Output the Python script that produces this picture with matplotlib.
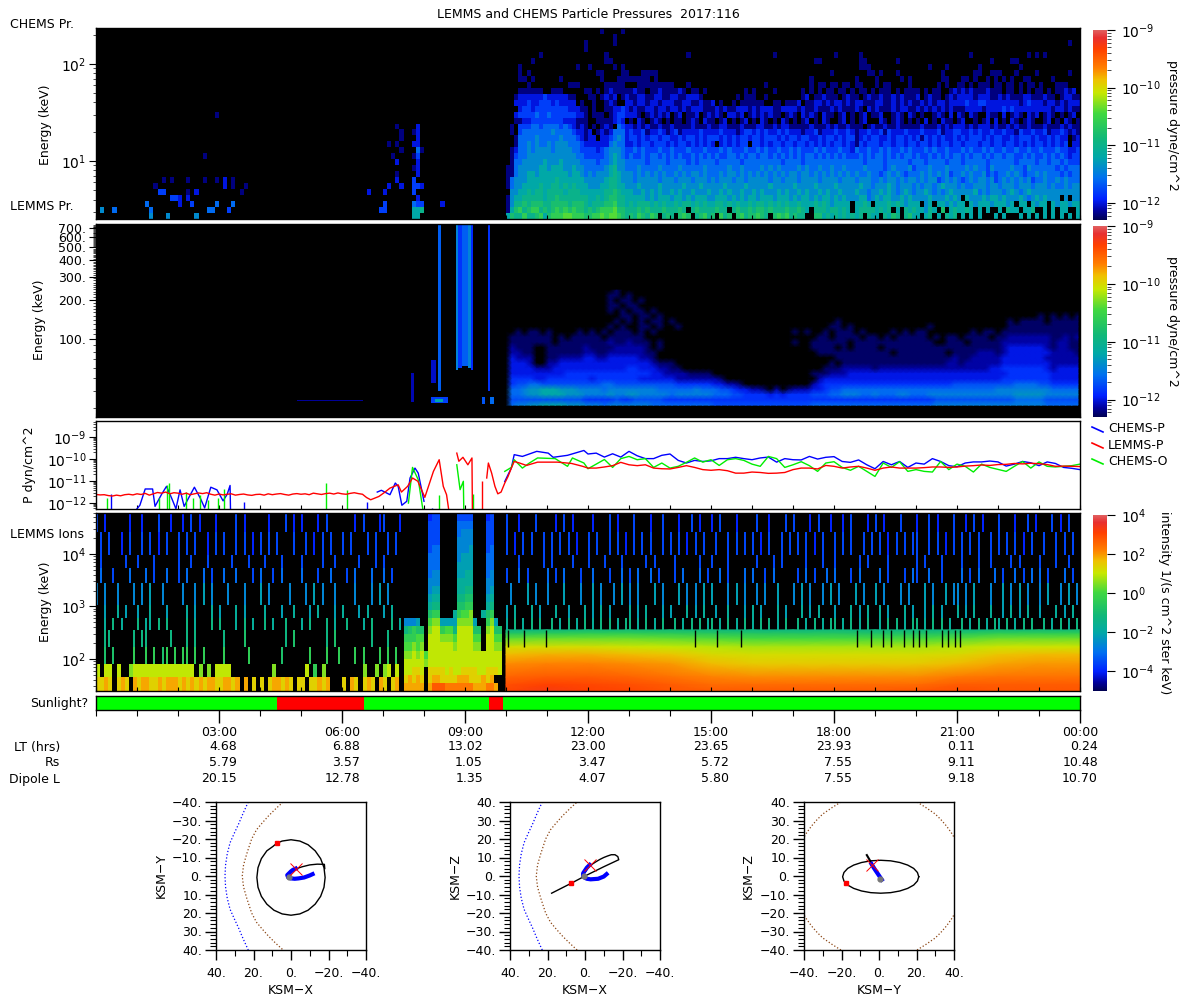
# -*- coding: utf-8 -*-
# LEMMS and CHEMS particle pressures, day 2017:116
import numpy as np
import matplotlib
matplotlib.use("Agg")
import matplotlib.pyplot as plt
from matplotlib.colors import LinearSegmentedColormap, LogNorm
from matplotlib.lines import Line2D
from matplotlib.ticker import FixedLocator, FixedFormatter, MultipleLocator, NullFormatter, LogLocator

plt.rcParams['font.family'] = ['DejaVu Sans']
plt.rcParams['font.size'] = 9
plt.rcParams['mathtext.default'] = 'regular'
plt.rcParams['axes.linewidth'] = 1.0
W, H = 1200, 1000

# --- CHEMS spectrogram, log P = -12.2 + 0.2*level, 6 min columns from 10:00, rows top -> bottom
chems_rows = [
".......... .......... ...0....0.",
".......... .......... ......0",
".......... .........0 ......0... .......... .......... .......... .......... .......... .......... .......... .......... .......... .......... .......0",
".......... .........0",
"........0. .......... ....0..... .......... ....0..... .......... .....0.... .......... 0.....0... .......... .......... ...0...... .......0.0 .0",
"......0... .......... ....00.... .......... .......... .......... .......... .....00... ......00.. .....0.... .......... ........0. ...00.....",
"...0...... .......0.. 0.....0.0. .......... .......... .......... .......... .......... ......000. .......... ...0...0.. .....0.... .....0....",
"...0.0.... .......... ..00....00 ...0000... .......... .......... .......... .........0 ........00 .0...0.... ......0... ....00..00 0...0....0 .......0",
"...00.0... ...0...... ...0...000 00000.0... .......... .......... .......... ....0..... .....0.... 0.....0.0. ......00.. .00.0..0.0 .0.0..00.. ...0..",
".....0.... .....000.. ....00000. ..00000000 0...0..... .......... ...0...... ....0.00.0 0.00.00... 0.00....0. .....0.0.. 00.0.000.0 0.00.0.00. 0...000.",
"...000000. .000.....0 0.0.010000 0100.00100 0010.00.0. ........0. 0....0.... ..0.0.0.00 .00.0.00.0 .000.0.000 0.0.00..01 0101000100 0.00.0.0.0 0.0.00101.",
"..01111112 1111100... 00.0101.01 0011001100 11001110.. ......0.00 0..0...... ..01.00100 0.0100.010 0100101000 1.0100.010 1111011100 1010001100 0100.01100",
"..11121122 2121111.0. .0..010..1 1011011011 1001100100 1.0..0.000 000..00.00 01.0011010 1101011000 1100101010 0101011011 1121122111 1111101211 1011010111",
"...1221222 2222211100 .0..001121 0100110110 1101011100 0101001110 1011100111 1010010001 0100010.10 1000101100 1010101010 0011110111 1212111111 1110110100",
"..12222322 3222222110 .000.01221 110.010101 .01.001.01 010.1101.0 1010100.01 0.1010.100 .01.0.01.0 01..010.10 .0..010.1. 10.10..100 .1.010.101 .010.0.01.",
"..00112222 2222111000 ..0000121. 0.10.010.0 .00.010.10 0.01.0.01. 0.10.0.10. 0.01.0.10. .01.0.01.. .10.010.0. 0.1.0.100. 01..0.01.1 .0.10.010. .01.0.10.0",
".0.2223323 3332321010 .0.010.321 1010100100 1000010001 0011000100 0110010110 0000100010 1001000.01 0010010000 0100010101 1101011101 0010100100 0100010100",
".0.2333333 3433332110 1.01013331 2112011210 1201111211 1121110122 1212112121 1101120111 2112101121 1202111211 1211120112 2112121121 1211021121 1201121010",
"..03333433 3334333210 11.1123431 2212122122 1121221212 2212121221 2212221212 2122112122 1212201212 2112122121 2021212112 1212221212 2112122212 1121211.01",
"..03343433 4344433321 1111134331 1212212221 2122121212 1.1212122. 2212122122 1221212121 2212102122 2122122122 1221212212 2122212212 2122121212 2121212.11",
".013343444 4344443322 2212344432 2323222322 3222322232 2232322232 2323223223 2322232322 2322132232 2323223232 2232322322 2323223232 2322322322 3222322112",
".023344444 4444444332 2222345432 3223233232 3232232323 2322332323 3233232323 2323323232 3232223232 3323232332 3223232323 3232332323 3233223232 2323232122",
".033444445 4445444433 3323345443 3333233332 3333232333 3233333233 3333333233 3323333333 3333333233 3323333323 3323333233 3233333233 3333233332 3323323222",
"0034444455 4555445443 3333456443 3343333433 3343333343 3333433433 3343434333 3434334334 3343333433 3323433342 3334333433 3343433243 3334332433 3333232333",
"0034455455 5555545543 4344456544 4343434343 3434344343 3343443434 3434343434 4344343434 3434343343 3234343233 3434343423 3434334232 3343432334 3433323233",
"0344455555 5565555554 4444566544 4344444344 4344434443 4344434434 4444344344 4344443444 4344434443 3434434344 3434423434 3234344342 3434343423 3433434333",
"0344555565 5665656555 4445566554 4454444544 4445444544 4445444454 4444544444 5444454444 5444445443 4445434443 4344345444 3433444344 3444344434 4434334344",
".445565665 6666566655 5555667655 5445454544 5454454445 4454544544 5454445454 4545445454 4544454434 4545434543 4454343454 4444534344 4345434544 4444444444",
"0455666665 6676666666 5565677665 5555454555 4554545554 4555454545 5455545554 5455454554 5454445534 5455445454 4445444545 4.54445455 4544454345 45444.4.44",
"0466767776 6777767776 5666778665 6566656565 5656656565 5665656556 5665656565 5655565654 5555.5565. 5556565455 5.45.55454 55.5455545 5545.55.54 55.5455455",
"0578678867 6787878776 7678889776 6676766676 6676.67666 6766.67667 6776766676 6765.66656 6565.56666 5656.5.656 55465.7.56 5565.5.5.. 5.655.556. .5.5.55..5",
"5766866785 7888998887 7889899876 7687687.67 6.787.6786 7.867.7867 7876.78786 766..77565 6565656.65 5.6576.675 5.56.5.656 .5.5.5...5 .5...5.5.5 .5.5.5.5.5",
]
chems_energy_range = [234, 2.52]

# --- isolated CHEMS cells before 10:00 (column = 6 min, row from top, level)
chems_low_col = [13,17,24,77,78, 1,4,13,27,28,32,69,70,77,78,79, 12,20,23,29,33,70,77,78,79,84, 18,19,20,22,78,
                 15,16,22,24,35,66,70,77, 14,31,33,36,71,74,77,78,79, 16,18,22,26,29,31,33,73,77, 73,78, 77,78,
                 73,78, 26,72,77,78, 74,78,79, 71,73,77,78, 74,78, 74,77,78, 73,78, 29]
chems_low_row = [31]*5 + [30]*11 + [29]*10 + [28]*5 + [27]*8 + [26]*9 + [25]*9 + [24]*2 + [23]*2 + \
                [22]*2 + [21]*4 + [20]*3 + [19]*4 + [18]*2 + [17]*3 + [16]*2 + [14]
chems_low_lev = [4,4,4,5,5, 4,3,3,3,3,2,2,2,5,5,6, 3,1,2,3,3,2,3,2,2,1, 2,2,1,1,1,
                 2,2,0,1,0,1,1,2, 0,1,0,0,1,1,2,2,1, 0,0,0,0,0,1,0,1,2, 0,1, 0,1,
                 1,1, 0,0,0,2, 0,3,0, 0,0,1,1, 0,1, 0,0,1, 0,1, 0]

# --- LEMMS proton spectrogram, log P = -12.25 + 0.13*level, 9 min nodes from 10:00
lemms_rows = [
".......... ........0.",
".......... .......00. 0",
".......... .......0.0 0.0",
".......... .......00. 00.",
".......... .......0.0 .00.0",
".......... .........0 0.00.0.... .......... .......... .......... .......... .......... .......0.0 .0.0",
".......... ........0. 0.0.00.0.. .......... .......... ....0..... .......... .......... ..0.0000.0 0000",
".......... .......0.0 ..00.0..0. .......... .......... ...00.0... .........0 .......... ..00000000 0000",
"..0.00.0.. ..0.0.0.00 0.0.0..... .......... .......0.0 ..0.000.0. ...0.0.00. ......0.00 .000000000 0000",
".0000000.0 .00000.000 000....... .......... .......... .00.0000.0 0.0.00000. 0.00.0000. 0011111110 0101",
".0000000.0 0000000100 1000.0.... .......... .......0.. 000000.000 0000000000 ..000.0000 0111111110 1100",
".1000..000 0001000011 1110.0.... .......... .......... 0000.0.000 0.00000000 0000000000 0122222210 1100",
".1100..000 0001100111 11100..... .......... .......... .000000000 000.000000 00.0000111 0122222221 1110",
".2111..001 1112211222 22110..... .......... .......... ....000000 0000000000 0001001111 1222222211 1111",
".2221..112 2222222222 22221000.. .......... .......... ...0.00000 0000000000 0011011111 1222222221 1111",
".2222111222 222222222 332221100. .......... .......... ..00011111 0111111111 1111111112 2333333321 2222",
".2222222223 333333333 33332211110 000....... .........0 0011122222 2222222222 2222222222 2333333322 2222",
".3333223333 333233333 332222221111 1110..... .......... 1222222222 2222222222 2222222222 3333333322 2222",
".3445544444 444445544 444444443333 3322110.. .........1 2333333333 3333333333 3344444444 4455554433 3333",
".5567788877 766665666 666665555556 5554432211 0.1.011122 3445555555 5555555555 5555555566 6666666555 5555",
".5567788887 776666766 776666656666 6655544333 3232333344 4556665565 5566555666 6666666666 6777776666 6666",
".4444444444 443333343 344444333333 3333333333 3333333333 3333333333 3333333344 4444444444 4555554444 4444",
".5667788887 776665666 666655555555 5544444444 4444444455 5555555555 5555555566 6666666666 6666665555 5555",
]
lemms_energy_range = [236, 31.3]

# --- patches before 10:00: start hour, end hour, top energy, bottom energy, log P
lemms_patch_h0 = [8.33, 8.18, 8.28, 8.77, 8.83, 8.92, 9.08, 9.14, 9.55, 9.42, 9.60, 8.18, 7.68, 4.9]
lemms_patch_h1 = [8.41, 8.58, 8.46, 8.83, 8.92, 9.08, 9.14, 9.19, 9.62, 9.48, 9.70, 8.30, 7.76, 6.5]
lemms_patch_e0 = [755, 36, 35, 755, 755, 755, 755, 755, 755, 36, 36, 69, 55, 34.5]
lemms_patch_e1 = [40, 32.5, 33, 58, 60, 62, 60, 58, 40, 32, 32, 46, 33, 33.5]
lemms_patch_p = [-11.65, -11.8, -11.2, -11.45, -11.85, -11.65, -11.45, -11.9, -11.85, -11.7, -11.6, -12.05, -12.1, -12.15]

# --- line panel, log10(P)*100
red_first = [-1161,-1163,-1162,-1166,-1168,-1164,-1167,-1162,-1160,-1163,-1158,-1161,-1156,-1164,-1158,-1152,-1155,-1150,
             -1158,-1153,-1155,-1160,-1155,-1162,-1158,-1154,-1157,-1153,-1160,-1164,-1159,-1163,-1160,-1158,-1164,-1161,
             -1159,-1163,-1165,-1161,-1160,-1164,-1158,-1162,-1159,-1157,-1161,-1164,-1159,-1157,-1160,-1158,-1162,-1155,
             -1158,-1161,-1157,-1155,-1159,-1154,-1158,-1160,-1156,-1153,-1157,-1160,-1175]
red_mid_h = [6.7,6.9,7.05,7.17,7.37,7.45,7.6,7.72,7.85,8.02,8.23,8.37,8.47,8.55,8.6,np.nan,
             8.8,8.85,8.95,9.07,9.17,9.18,np.nan,9.53,9.57,9.65,9.73,9.8,9.88,9.97,10.05,10.13,10.2,10.33,10.5,10.77,11.26,11.6,11.87]
red_mid_p = [-1185,-1170,-1150,-1132,-1117,-1150,-1124,-1086,-1101,-1174,-1056,-1003,-1124,-1162,-1226,np.nan,
             -973,-1010,-992,-1026,-995,-1226,np.nan,-1086,-1018,-1064,-1124,-1158,-1150,-1109,-1079,-1041,-1011,-1018,-1029,-1014,-1014,-1020,-1033]
red_late = [-1041,-1041,-1036,-1030,-1015,-1026,-1030,-1026,-1041,-1044,-1045,-1038,-1030,-1038,-1048,-1051,-1048,-1053,
            -1064,-1064,-1059,-1061,-1065,-1064,-1061,-1048,-1041,-1041,-1045,-1029,-1033,-1041,-1036,-1033,-1041,-1051,
            -1041,-1036,-1041,-1041,-1041,-1039,-1036,-1036,-1038,-1036,-1032,-1030,-1027,-1029,-1025,-1024,-1020,-1022,
            -1019,-1021,-1025,-1033,-1032,-1033,-1034]
blue_mid_h = [0.13,np.nan,1.0,1.07,1.2,1.38,1.44,1.6,1.72,1.85,1.95,2.05,2.15,2.25,2.4,2.55,2.65,2.8,2.95,3.1,3.2,3.27,3.28,np.nan,
              6.86,6.96,7.17,7.3,7.37,7.46,7.58,7.66,7.78,7.86,8.0,np.nan,
              9.97,10.05,10.13,10.2,10.4,10.75,11.03,11.15,11.5,11.9]
blue_mid_p = [-1226,np.nan,-1226,-1210,-1136,-1136,-1215,-1160,-1124,-1180,-1226,-1140,-1215,-1180,-1128,-1180,-1222,-1128,-1140,-1190,-1160,-1120,-1226,np.nan,
              -1150,-1142,-1162,-1109,-1124,-1210,-1192,-1086,-1041,-1064,-1192,np.nan,
              -1102,-1071,-1041,-980,-988,-965,-973,-992,-983,-961]
blue_late = [-977,-973,-991,-976,-991,-965,-985,-998,-998,-983,-977,-1006,-1018,-1006,-1011,-1008,-998,-998,-992,-998,
             -1003,-995,-991,-1014,-998,-1003,-1004,-988,-1000,-992,-989,-1011,-1015,-1004,-1026,-1044,-1011,-1026,-1011,
             -1038,-1018,-1023,-998,-1011,-1030,-1035,-1018,-1013,-1013,-1009,-1013,-1032,-1023,-1011,-1017,-1030,-1013,
             -1020,-1038,-1042,-1048]
green_mid_h = [7.62,7.72,7.86,7.97,np.nan,8.8,8.88,8.96,8.97,np.nan,9.97,10.13,10.2,10.4,10.57,10.77,11.2,11.5,11.62,11.9]
green_mid_p = [-1200,-1038,-1094,-1226,np.nan,-1026,-1139,-1101,-1226,np.nan,-1056,-1038,-1003,-1041,-1018,-995,-998,-1033,-995,-1018]
green_late = [-1044,-1023,-1002,-1038,-998,-988,-1003,-998,-1038,-1018,-1041,-1033,-1015,-995,-1014,-1003,-1029,-1003,
              -998,-1006,-1023,-1033,-988,-998,-1038,-1026,-1012,-1030,-1056,-1018,-1012,-1038,-1051,-1033,-1056,-1079,
              -1018,-1038,-1012,-1056,-1048,-1056,-1059,-1011,-1048,-1023,-1033,-1059,-1023,-1038,-1047,-1056,-1033,-1011,
              -1041,-1013,-1033,-1036,-1033,-1030,-1023]
blue_spike_h = [0.37, 3.6, 6.62, 8.2]
blue_spike_p = [-1159, -1195, -1195, -1222]
green_spike_h = [0.28,1.54,1.72,1.79,2.2,2.37,2.54,2.72,2.97,3.13,5.62,6.13,8.37,9.2]
green_spike_p = [-1177,-1177,-1116,-1109,-1150,-1177,-1162,-1185,-1177,-1136,-1109,-1139,-1165,-1159]
red_spike_h = [9.41]
red_spike_p = [-1102]
line_floor = -1227

# --- LEMMS ions, log I = -4 + 0.45*level (hex), 6 min streak columns
ion_band_edges = [60000, 26000, 9600, 5400, 2800, 1070, 604, 357]
ion_bands = [
"1.0.....0. .0...1..0. .0.1.0...0 ....1.0... ..0...1.0. 0...0.1... ...0.1...0 1...0.0... 1.0...1.00 ..1.0...0. 1..0...1.. ..0.1.0... .0...1.0.. .1...0..1. ..0..1.0.. 0.1...0... .1..0...1. 1...0.1..0 ..0.1...0. 1.0...1... 0..1.0...1 ..0.1.0... 1...0..1.0 ...1.0.1..",
".1.1..0.1. .1.1.0.1.. 1.1.1..0.1 .1..1.1.0. 1.1.1...1. .1.0.1.1.. 1.1...1.1. .1.1.1..0. 1.1.0.1.1. .1.1..1.1. 1.0.1.1..1 .1.1.1.0.. 1.1..1.1.0 .1.1.1..1. 1.1.0.1.1. .1..1.1.1. 1.0.1..1.1 .1.1.0.1.. 1.1.1..1.1 .1.0.1.1.1 1..1.1.0.1 .1.1.1..1. 1.1.1.0.1. .1..1.1.1.",
".1.....1.. 1...1..... 1..1...1.. ...1...1.. .1...1.... 1....1..1. ....1...1. 1.....1... .1..1..... 1...1...1. ...1.....1 .1....1... 1...1...1. ....1.1... .1.....1.. 1...1..... .1...1.1.. ...1...1.. 1.....1.1. ...1...... 1.1...1... .1...1..1. ...1.1.... 1...1..1..",
".2..1...2. ..2.1..2.. 1.2...2.1. .2..2...1. 2..1.2.... 2...1..2.. .1.2...2.. 2.1...1... .2.1.2...1 ..2...1.2. 1..2.1.... 2.1.2...1. .2...1..2. 1.2..2.1.. .1.2...2.1 ..2.1...2. 2..1.2.... .1.2.1..2. 2...1.2... .2.1...1.2 1..2..1... .2.1.2...2 .1..2.1.2. 2.1...2.1.",
"3.3..3...3 .3.4..3... .3..3.4.3. ..3...3... 4.3....3.. .3.4.3..3. ...3...3.4 .3....3... 3.4..3.... 4..3...3.. .3...4.3.. 3...4...3. .4.3..3.4. 3.3...4.3. ..4.3.3.4. 4...3.4.3. .3.3..4... 3.4.3..3.4 .3...4.3.. 4.3...3.3. ..4.3..4.3 3.3.4...3. .4.3.4.3.. 3.4..3.4.3",
"..4..5.4.. 4..5...4.. ..5.4...5. 4...5.4... .5...4..5. ..4.5...4. 5...4.5... 4.5...4..5 ...5.4.... 5..4...5.. 4.5...5.4. ..5..4...5 .4.5.4.... 5.4.5...4. 4...5.4.5. .4..5...4. 5.4...5.4. ..5.4.5... 4...5.4.5. .5.4...5.4 ..4.5.4... 5.4.5...5. .4.5.4.5.. 4...5.4.5.",
"..5.6.5... 6.55.6.6.. ..6.5...6. 6...5.6.5. .6.5..6... 5.6...6.5. .6...5.6.. ..6.5.6..5 6..5...6.5 .6.5.6.5.6 5.6.5.6.6. .6.5.6.5.6 .5.6.6.5.6 6.5.6.5.6. .6.5.6.6.5 6.5.6.5.6. 5.6.6.5.6. .6.5.6.5.6 6.5.6.5.6. .5.6.6.5.6 6.5.6.6.5. .6.5.6.5.6 5.6.5.6.6. .6.5.6.5.6",
]
# low energy channels before the first burst: two thin-streak bands, then two filled bands
ion_low_edges = [357, 169, 80, 45, 24.5]
ion_low_rows = [
"..66.....6 .66.....6. ..6.6..... .6....7... ......6.7. ......6.7. .......6.. .6..",
"..7.7....8 ..8.8.78.8 .88.8.8... .8.....8.. .....7.... ..8...8..8 ...8.8...8 .8.8",
"b.bb.b..ab bbbbbbbbbb bbbb.a.a.b bbb....... ...a...... .b.8.a.... .....a..a. ab.b",
"ccdc.cdc.d cddccdcddd cdcdcdcddc cddcd.d.c. c.cddcdc.c c.ccdcd... c.dc.cdc.d c.cd",
]
# bursts between 07:30 and 10:00, 6 min columns
ion_burst_rows = [
"......011....1111...01...", "......111....2222...11...", "......111....2333...11...", "......111....3333...11...",
"......122....3334...12...", "......222....3444...22...", "......222....4444...22...", "......233....4455...23...",
"......333....5555...33...", "......344....5566...34...", "......455....6677...45...", "......566....7788...56...",
"......788...5899a..578...", "3334..9aa4444aaaa4..8a4..", "67877.abb8996bbbb77.ab77.", "88899.bbbaaa9bbbb99.bb99.",
"99a9a.bbbbbbabbbbaa.bbaa.", "aabab9bbbbbbbbbbbbbbbbbb.", "bbbbbabbbbbbbbbbbbbbbbbb.", "bbccb.ccccbcbbccccbbcccb.",
"cdcdc.cddccccdddcccdcd...", "ddddd.dfffeeeeeeedddeed..",
]
# smooth ion flux after 10:00
ion_hours = [10,11,12,13,14,15,16,17,18,19,20,21,22,23,24]
ion_energy = [357, 300, 240, 169, 120, 80, 45, 32, 24.5]
ion_e357 = [-1.4,-1.2,-1.1,-1.1,-1.1,-1.2,-1.3,-1.3,-1.2,-1.3,-1.3,-1.3,-1.1,-1.1,-1.1]
ion_e300 = [-.6,-.4,-.3,-.3,-.4,-.5,-.6,-.6,-.6,-.7,-.7,-.6,-.3,-.3,-.3]
ion_e240 = [.3,.4,.4,.4,.3,.2,.1,.1,.1,.1,.1,.2,.4,.4,.4]
ion_e169 = [1.2,1.2,1.2,1.1,1.0,.9,.8,.8,.8,.8,.8,.9,1.1,1.1,1.1]
ion_e120 = [1.7,1.8,1.8,1.7,1.6,1.3,1.2,1.2,1.2,1.2,1.2,1.3,1.6,1.7,1.7]
ion_e80 = [2.1,2.2,2.2,2.1,2.0,1.7,1.5,1.5,1.5,1.5,1.5,1.7,1.9,2.0,2.0]
ion_e45 = [2.6,2.7,2.7,2.6,2.4,2.2,2.1,2.1,2.1,2.1,2.1,2.3,2.4,2.4,2.4]
ion_e32 = [2.9,3.1,3.0,2.9,2.7,2.5,2.5,2.5,2.5,2.5,2.5,2.7,2.7,2.7,2.7]
ion_e24 = [3.0,3.3,3.1,3.0,2.8,2.7,2.7,2.7,2.7,2.7,2.8,2.9,2.8,2.8,2.8]
ion_gap_hours = [10.05,10.45,10.97,14.6,15.15,15.73,18.56,18.91,19.2,19.38,19.71,19.93,20.07,20.25,20.63,20.78,20.94,21.07]

# --- sunlight bar
shadow_start = [4.42, 9.59]
shadow_end = [6.53, 9.93]

# --- ephemeris rows
time_hours = [3, 6, 9, 12, 15, 18, 21, 24]
time_labels = ['03:00', '06:00', '09:00', '12:00', '15:00', '18:00', '21:00', '00:00']
lt_values = ['4.68', '6.88', '13.02', '23.00', '23.65', '23.93', '0.11', '0.24']
rs_values = ['5.79', '3.57', '1.05', '3.47', '5.72', '7.55', '9.11', '10.48']
dipole_values = ['20.15', '12.78', '1.35', '4.07', '5.80', '7.55', '9.18', '10.70']

# --- orbit panels
shock_a = [22.8,25.5,28,30.3,32.5,34,34.9,35.2,34.9,34,32.5,30.3,28,25.5,22.8]
shock_b = [-40,-34,-28,-23,-18,-12,-6,0,6,12,18,23,28,34,40]
pause_a = [4.2,8,12,15.5,18.4,21,23.6,25.3,26,25.3,23.6,21,18.4,15.5,12,8,4.2]
pause_b = [-40,-36.5,-32.5,-28.5,-25,-20,-12,-6,0,6,12,20,25,28.5,32.5,36.5,40]
xy_orbit_x = [7.5,4.7,0,-4.7,-9.1,-12.9,-15.8,-17.6,-18.2,-17.6,-15.8,-12.9,-9.1,-4.7,0,4.7,9.1,12.9,15.8,17.6,18.2,17.6,15.8,12.9,9.6,7.5]
xy_orbit_y = [-17.8,-18.9,-19.6,-18.9,-16.9,-13.6,-9.4,-4.5,.8,6.1,11,15.2,18.5,20.5,21.2,20.5,18.5,15.2,11,6.1,.8,-4.5,-9.4,-13.6,-16,-17.8]
xy_inner_x = [-18,-17.8,-14,-10,-6,-3,0,1.5]
xy_inner_y = [-4,-6.3,-6.4,-6,-5,-4,-2,0]
xy_blue_x = [-2.5,-1,0,1,2,1.5,0,-2,-4,-7,-10,-11.5]
xy_blue_y = [-4,-3.3,-2.5,-1.5,-0.5,0.8,1.3,1.5,1.3,0.8,-0.3,-1]
xz_orbit_x = [17.8,7.5,0,-10,-18,-17.5,-16,-14,-12,-10,-8,-6,-4,-2,0]
xz_orbit_z = [-9.3,-4,0,5,8.8,10.5,11.5,11.5,10.8,10,9,7.8,6.5,5,2]
xz_blue_x = [-2.5,-1,0,1,1,0,-1,-3,-7,-10,-11.5]
xz_blue_z = [6,4.5,3,1.5,0,-1,-1.5,-1.8,-1.5,-0.3,1]
yz_orbit_y = [21.2,20.5,18.5,15.3,11.1,6.2,.9,-4.4,-9.3,-13.5,-16.7,-18.7,-19.4,-18.7,-16.7,-13.5,-9.3,-4.4,.9,6.2,11.1,15.3,18.5,20.5,21.2]
yz_orbit_z = [-.4,1.9,4.1,5.9,7.3,8.2,8.5,8.2,7.3,5.9,4.1,1.9,-.4,-2.7,-4.9,-6.7,-8.1,-9,-9.3,-9,-8.1,-6.7,-4.9,-2.7,-.4]
yz_stub_y = [-6.5,-4]
yz_stub_z = [11.3,7]
yz_blue_y = [-4,-2.5,-1.5,-0.5,1.5]
yz_blue_z = [6.5,4,2.5,1,-2]
pause_yz_y = [-20.3,-25,-30,-33,-36,-38.5,-40]
pause_yz_z = [40,37,33.5,30.5,27,23.5,21]


def px_axes(x0, y0, x1, y1):
    return fig.add_axes([x0 / W, 1 - y1 / H, (x1 - x0) / W, (y1 - y0) / H])


def parse_rows(rows, ncol, base, step):
    out = []
    for row in rows:
        s = row.replace(' ', '').ljust(ncol, '.')[:ncol]
        out.append([np.nan if c == '.' else base + step * int(c, 16) for c in s])
    return np.array(out)


def style_time_axis(ax):
    ax.set_xlim(0, 24)
    ax.xaxis.set_major_locator(MultipleLocator(1))
    ax.xaxis.set_major_formatter(NullFormatter())
    ax.tick_params(axis='x', which='major', direction='in', length=3, width=0.8, top=False)


def style_y_ticks(ax, labelsize=10):
    ax.tick_params(axis='y', which='major', length=5, width=0.8, labelsize=labelsize, pad=2)
    ax.tick_params(axis='y', which='minor', length=2.5, width=0.5)


def add_colorbar(y0, y1, mesh, label, lab_x):
    cax = px_axes(1093, y0, 1107, y1)
    cb = fig.colorbar(mesh, cax=cax, extend='neither')
    cb.ax.yaxis.set_major_locator(LogLocator(base=10, numticks=20) if 'pressure' in label else FixedLocator([1e4, 1e2, 1, 1e-2, 1e-4]))
    cb.ax.tick_params(which='major', length=6, width=0.8, pad=4, labelsize=10)
    cb.ax.tick_params(which='minor', length=3, width=0.5)
    cb.outline.set_linewidth(0.0)
    fig.text(lab_x / W, 1 - (y0 + y1) / 2 / H, label, rotation=270, ha='center', va='center', fontsize=9)


cmap = LinearSegmentedColormap.from_list('idlish', [
    (0.0, '#000050'), (0.05, '#0000a0'), (0.11, '#0020ff'), (0.22, '#0070f0'), (0.33, '#00a8a8'),
    (0.43, '#10b878'), (0.56, '#40d840'), (0.67, '#c8e800'), (0.74, '#f0c000'), (0.80, '#ff8000'),
    (0.90, '#ff4000'), (0.96, '#e83030'), (1.0, '#e06060')], N=512)
cmap.set_under('black')
cmap.set_bad('black')
p_norm = LogNorm(10 ** -12.3, 1e-9)
i_norm = LogNorm(10 ** -5.03, 1e4)

fig = plt.figure(figsize=(12, 10), dpi=100)

# CHEMS panel
ax1 = px_axes(96, 28, 1080, 219)
ax1.set_facecolor('black')
chems = np.full((32, 240), np.nan)
chems[:, 100:] = parse_rows(chems_rows, 140, -12.2, 0.2)
for c, r, l in zip(chems_low_col, chems_low_row, chems_low_lev):
    chems[r, c] = -12.2 + 0.2 * l
mesh1 = ax1.pcolormesh(np.linspace(0, 24, 241), np.geomspace(chems_energy_range[0], chems_energy_range[1], 33),
                       10 ** chems, cmap=cmap, norm=p_norm)
ax1.set_yscale('log')
ax1.set_ylim(2.52, 234)
style_time_axis(ax1)
style_y_ticks(ax1)
add_colorbar(30, 220, mesh1, 'pressure dyne/cm^2', 1172)

# LEMMS proton panel
ax2 = px_axes(96, 224, 1080, 417)
ax2.set_facecolor('black')
lemms = parse_rows(lemms_rows, 94, -12.25, 0.13)
lemms = np.nan_to_num(lemms, nan=-13.0)
lemms_h = 10 + 0.15 * np.arange(94)
lemms_e = np.geomspace(lemms_energy_range[0], lemms_energy_range[1], 23)
mesh2 = ax2.pcolormesh(lemms_h, lemms_e, 10 ** lemms, cmap=cmap, norm=p_norm, shading='gouraud')
for h0, h1, e0, e1, p in zip(lemms_patch_h0, lemms_patch_h1, lemms_patch_e0, lemms_patch_e1, lemms_patch_p):
    ax2.fill_between([h0, h1], e1, e0, color=cmap(p_norm(10 ** p)), lw=0)
ax2.set_yscale('log')
ax2.set_ylim(25.4, 755)
style_time_axis(ax2)
ax2.yaxis.set_major_locator(FixedLocator([100, 200, 300, 400, 500, 600, 700]))
ax2.yaxis.set_major_formatter(FixedFormatter(['100.', '200.', '300.', '400.', '500.', '600.', '700.']))
ax2.yaxis.set_minor_locator(FixedLocator(list(range(30, 100, 10)) + list(range(110, 750, 10))))
ax2.yaxis.set_minor_formatter(NullFormatter())
style_y_ticks(ax2, 9)
add_colorbar(226, 417, mesh2, 'pressure dyne/cm^2', 1172)

# line panel
ax3 = px_axes(96, 421, 1080, 509)
h_first = 0.1 * np.arange(len(red_first))
h_late = 12 + 0.2 * np.arange(61)
red_h = np.concatenate([h_first, red_mid_h, h_late])
red_p = np.concatenate([red_first, red_mid_p, red_late]) / 100
blue_h = np.concatenate([blue_mid_h, h_late])
blue_p = np.concatenate([blue_mid_p, blue_late]) / 100
green_h = np.concatenate([green_mid_h, h_late])
green_p = np.concatenate([green_mid_p, green_late]) / 100
ax3.plot(blue_h, 10 ** blue_p, color='#0000ff', lw=1)
ax3.plot(green_h, 10 ** green_p, color='#00ee00', lw=1)
ax3.vlines(blue_spike_h, 10 ** (line_floor / 100), 10.0 ** (np.array(blue_spike_p) / 100), color='#0000ff', lw=1)
ax3.vlines(green_spike_h, 10 ** (line_floor / 100), 10.0 ** (np.array(green_spike_p) / 100), color='#00ee00', lw=1)
ax3.plot(red_h, 10 ** red_p, color='#ff0000', lw=1)
ax3.vlines(red_spike_h, 10 ** (line_floor / 100), 10.0 ** (np.array(red_spike_p) / 100), color='#ff0000', lw=1)
ax3.set_yscale('log')
ax3.set_ylim(10 ** -12.27, 10 ** -8.27)
style_time_axis(ax3)
ax3.yaxis.set_major_locator(FixedLocator([1e-12, 1e-11, 1e-10, 1e-9]))
ax3.yaxis.set_minor_locator(LogLocator(base=10, subs=range(2, 10), numticks=20))
ax3.yaxis.set_minor_formatter(NullFormatter())
style_y_ticks(ax3)
legend_names = ['CHEMS-P', 'LEMMS-P', 'CHEMS-O']
legend_cols = ['#0000ff', '#ff0000', '#00ee00']
for i, (nm, co) in enumerate(zip(legend_names, legend_cols)):
    y = 427 + 16 * i
    fig.add_artist(Line2D([1092 / W, 1103 / W], [1 - y / H, 1 - (y + 5) / H], color=co, lw=1.2))
    fig.text(1108 / W, 1 - (y + 2) / H, nm, ha='left', va='center')

# LEMMS ion panel
ax4 = px_axes(96, 513, 1080, 691)
ax4.set_facecolor('black')
streaks = parse_rows(ion_bands, 240, -4, 0.45)
thin = np.full((streaks.shape[0], 480), np.nan)
thin[:, ::2] = streaks
mesh4 = ax4.pcolormesh(np.linspace(0, 24, 481), ion_band_edges, 10 ** thin, cmap=cmap, norm=i_norm)
low = parse_rows(ion_low_rows, 75, -4, 0.45)
low_fine = np.full((low.shape[0], 150), np.nan)
low_fine[:2, ::2] = low[:2]
low_fine[2:, ::2] = low[2:]
low_fine[2:, 1::2] = low[2:]
ax4.pcolormesh(np.linspace(0, 7.5, 151), ion_low_edges, 10 ** low_fine, cmap=cmap, norm=i_norm)
burst = parse_rows(ion_burst_rows, 25, -4, 0.45)
ax4.pcolormesh(np.linspace(7.5, 10, 26), np.geomspace(60000, 24.5, 23), 10 ** burst, cmap=cmap, norm=i_norm)
ion_table = np.array([ion_e357, ion_e300, ion_e240, ion_e169, ion_e120, ion_e80, ion_e45, ion_e32, ion_e24])
ax4.pcolormesh(ion_hours, ion_energy, 10 ** ion_table, cmap=cmap, norm=i_norm, shading='gouraud')
ax4.vlines(ion_gap_hours, 169, 357, color='black', lw=1)
ax4.set_yscale('log')
ax4.set_ylim(24.5, 60000)
style_time_axis(ax4)
style_y_ticks(ax4)
add_colorbar(515, 691, mesh4, 'intensity 1/(s cm^2 ster keV)', 1165)

# sunlight bar
ax5 = px_axes(96, 696, 1080, 710)
ax5.set_facecolor('#00ff00')
ax5.barh([0.5, 0.5], np.subtract(shadow_end, shadow_start), left=shadow_start, height=1, color='#ff0000')
ax5.set_xlim(0, 24)
ax5.set_ylim(0, 1)
ax5.set_yticks([])
ax5.xaxis.set_major_locator(FixedLocator(time_hours))
ax5.xaxis.set_minor_locator(MultipleLocator(1))
ax5.xaxis.set_major_formatter(NullFormatter())
ax5.tick_params(axis='x', which='major', length=9, width=1)
ax5.tick_params(axis='x', which='minor', length=4, width=0.8)

# labels in the figure margin
fig.text(588 / W, 1 - 15 / H, 'LEMMS and CHEMS Particle Pressures  2017:116', ha='center', va='center', fontsize=9)
fig.text(10 / W, 1 - 24 / H, 'CHEMS Pr.', ha='left', va='center')
fig.text(10 / W, 1 - 206 / H, 'LEMMS Pr.', ha='left', va='center')
fig.text(10 / W, 1 - 534 / H, 'LEMMS Ions', ha='left', va='center')
fig.text(88 / W, 1 - 703 / H, 'Sunlight?', ha='right', va='center')
fig.text(45 / W, 1 - 125 / H, 'Energy (keV)', rotation=90, ha='center', va='center')
fig.text(40 / W, 1 - 320 / H, 'Energy (keV)', rotation=90, ha='center', va='center')
fig.text(29 / W, 1 - 465 / H, 'P dyn/cm^2', rotation=90, ha='center', va='center')
fig.text(45 / W, 1 - 602 / H, 'Energy (keV)', rotation=90, ha='center', va='center')
for row_y, name, vals in [(732, None, time_labels), (747, 'LT (hrs)', lt_values),
                          (763, 'Rs', rs_values), (779, 'Dipole L', dipole_values)]:
    if name:
        fig.text(60 / W, 1 - row_y / H, name, ha='right', va='center')
    for h, v in zip(time_hours, vals):
        fig.text((96 + 41 * h + 18) / W, 1 - row_y / H, v, ha='right', va='center')


def orbit_axes(x0, x1, xflip, yflip, xlab, ylab, lab_x):
    ax = px_axes(x0, 802, x1, 950)
    ax.set_xlim((40, -40) if xflip else (-40, 40))
    ax.set_ylim((40, -40) if yflip else (-40, 40))
    ax.set_xticks([40, 20, 0, -20, -40])
    ax.set_xticklabels(['40.' if v > 0 and v == 40 else ('20.' if v == 20 else ('0.' if v == 0 else '\u2212%d.' % -v)) for v in [40, 20, 0, -20, -40]])
    ax.xaxis.set_minor_locator(MultipleLocator(10))
    ax.set_yticks(np.arange(-40, 41, 10))
    ax.set_yticklabels(['\u2212%d.' % -v if v < 0 else '%d.' % v for v in np.arange(-40, 41, 10)])
    ax.yaxis.set_minor_locator(MultipleLocator(2))
    ax.tick_params(axis='x', which='major', length=7, width=1, pad=5)
    ax.tick_params(axis='x', which='minor', length=4, width=0.8)
    ax.tick_params(axis='y', which='major', length=8, width=1, pad=2)
    ax.tick_params(axis='y', which='minor', length=4, width=0.8)
    fig.text((x0 + x1) / 2 / W, 1 - 990 / H, xlab, ha='center', va='center')
    fig.text(lab_x / W, 1 - 876 / H, ylab, rotation=90, ha='center', va='center')
    return ax


orbit_x = orbit_axes(216, 366, True, True, 'KSM\u2212X', 'KSM\u2212Y', 161)
orbit_x.plot(shock_a, shock_b, ':', color='#0000ff', lw=0.9)
orbit_x.plot(pause_a, pause_b, ':', color='#8b4513', lw=0.9)
orbit_x.plot(xy_orbit_x, xy_orbit_y, 'k-', lw=1)
orbit_x.plot(xy_inner_x, xy_inner_y, 'k-', lw=1)
orbit_x.plot(xy_blue_x, xy_blue_y, '-', color='#0000ff', lw=3)
orbit_x.plot([1], [0.3], 'o', color='#777777', ms=3.5)
orbit_x.plot([7.5], [-17.8], 's', color='#ff0000', ms=3.5)
orbit_x.plot([-2.5], [-4], 'x', color='#ff0000', ms=9, mew=0.7)

orbit_z = orbit_axes(510, 660, True, False, 'KSM\u2212X', 'KSM\u2212Z', 455)
orbit_z.plot(shock_a, shock_b, ':', color='#0000ff', lw=0.9)
orbit_z.plot(pause_a, pause_b, ':', color='#8b4513', lw=0.9)
orbit_z.plot(xz_orbit_x, xz_orbit_z, 'k-', lw=1)
orbit_z.plot(xz_blue_x, xz_blue_z, '-', color='#0000ff', lw=3)
orbit_z.plot([0.5], [0], 'o', color='#777777', ms=3.5)
orbit_z.plot([7.5], [-4], 's', color='#ff0000', ms=3.5)
orbit_z.plot([-2.5], [6], 'x', color='#ff0000', ms=9, mew=0.7)

orbit_y = orbit_axes(804, 954, False, False, 'KSM\u2212Y', 'KSM\u2212Z', 748)
for sx in (1, -1):
    for sz in (1, -1):
        orbit_y.plot(sx * np.array(pause_yz_y), sz * np.array(pause_yz_z), ':', color='#8b4513', lw=0.9)
orbit_y.plot(yz_orbit_y, yz_orbit_z, 'k-', lw=1)
orbit_y.plot(yz_stub_y, yz_stub_z, 'k-', lw=1.5)
orbit_y.plot(yz_blue_y, yz_blue_z, '-', color='#0000ff', lw=3)
orbit_y.plot([0.5], [-1.5], 'o', color='#777777', ms=3.5)
orbit_y.plot([-17.8], [-4], 's', color='#ff0000', ms=3.5)
orbit_y.plot([-3.5], [6], 'x', color='#ff0000', ms=9, mew=0.7)

fig.savefig('out.png', dpi=100)
